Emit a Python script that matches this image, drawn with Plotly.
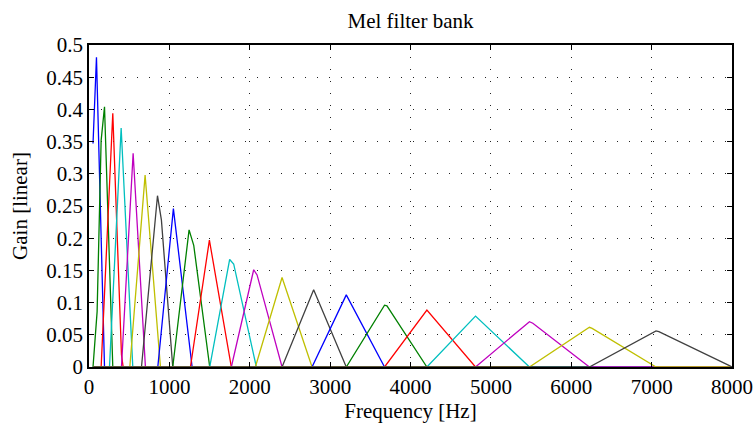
import plotly.graph_objects as go

# Filter vertices (Hz, linear gain)
filter_freqs = [
    [50, 93, 193, 8000],
    [50, 101, 151, 193, 296, 8000],
    [50, 151, 296, 404, 425, 8000],
    [50, 255, 400, 545, 8000],
    [50, 404, 549, 702, 8000],
    [50, 508, 698, 889, 8000],
    [50, 653, 852, 901, 1042, 8000],
    [50, 856, 1050, 1283, 8000],
    [50, 1042, 1245, 1303, 1502, 8000],
    [50, 1262, 1498, 1771, 8000],
    [50, 1502, 1750, 1800, 2082, 8000],
    [50, 1771, 2049, 2091, 2402, 8000],
    [50, 2070, 2402, 2775, 8000],
    [50, 2402, 2795, 3201, 8000],
    [50, 2775, 3201, 3677, 8000],
    [50, 3201, 3677, 3707, 4204, 8000],
    [50, 3677, 4204, 4809, 8000],
    [50, 4204, 4809, 5480, 8000],
    [50, 4809, 5480, 5522, 6226, 8000],
    [50, 5480, 6226, 6260, 7055, 8000],
    [50, 6226, 7055, 7090, 7968, 8000],
]
filter_gains = [
    [0.347, 0.481, 0, 0],
    [0, 0.086, 0.352, 0.404, 0, 0],
    [0, 0, 0.394, 0.019, 0, 0],
    [0, 0, 0.371, 0, 0],
    [0, 0, 0.332, 0, 0],
    [0, 0, 0.298, 0, 0],
    [0, 0, 0.266, 0.228, 0, 0],
    [0, 0, 0.246, 0, 0],
    [0, 0, 0.213, 0.189, 0, 0],
    [0, 0, 0.197, 0, 0],
    [0, 0, 0.167, 0.160, 0, 0],
    [0, 0, 0.151, 0.143, 0, 0],
    [0, 0, 0.139, 0, 0],
    [0, 0, 0.120, 0, 0],
    [0, 0, 0.112, 0, 0],
    [0, 0, 0.096, 0.095, 0, 0],
    [0, 0, 0.0885, 0, 0],
    [0, 0, 0.079, 0, 0],
    [0, 0, 0.0704, 0.068, 0, 0],
    [0, 0, 0.0616, 0.060, 0, 0],
    [0, 0, 0.056, 0.055, 0.002, 0],
]
line_colors = ["#0000FF", "#008000", "#FF0000", "#00BFBF", "#BF00BF", "#BFBF00", "#404040"]

x_tickvals = [0, 1000, 2000, 3000, 4000, 5000, 6000, 7000, 8000]
x_ticktext = ["0", "1000", "2000", "3000", "4000", "5000", "6000", "7000", "8000"]
y_tickvals = [0, 0.05, 0.1, 0.15, 0.2, 0.25, 0.3, 0.35, 0.4, 0.45, 0.5]
y_ticktext = ["0", "0.05", "0.1", "0.15", "0.2", "0.25", "0.3", "0.35", "0.4", "0.45", "0.5"]

fig = go.Figure()
for i, (fx, gy) in enumerate(zip(filter_freqs, filter_gains)):
    fig.add_trace(go.Scatter(
        x=fx, y=gy, mode="lines",
        line=dict(color=line_colors[i % len(line_colors)], width=1.3),
        showlegend=False, hoverinfo="skip",
    ))

font_family = "Liberation Serif"
axis_common = dict(
    showline=True, linecolor="black", linewidth=1.5, mirror="ticks",
    ticks="inside", ticklen=5, tickwidth=1, tickcolor="black",
    showgrid=True, gridcolor="#222222", gridwidth=1, griddash="1px,11px",
    zeroline=False, automargin=False,
    tickfont=dict(family=font_family, size=21, color="black"),
)

fig.update_layout(
    width=755, height=423,
    margin=dict(l=89, r=23, t=45, b=56),
    paper_bgcolor="white", plot_bgcolor="white",
    title=dict(text="Mel filter bank", x=0.5, xref="paper", y=1 - 21 / 423, yref="container",
               xanchor="center", yanchor="middle", automargin=False,
               font=dict(family=font_family, size=21, color="black")),
    xaxis=dict(range=[0, 8000], tickvals=x_tickvals, ticktext=x_ticktext,
               title=dict(text="Frequency [Hz]", standoff=2,
                          font=dict(family=font_family, size=21, color="black")),
               **axis_common),
    yaxis=dict(range=[0, 0.5], tickvals=y_tickvals, ticktext=y_ticktext,
               title=dict(text="Gain [linear]", standoff=13,
                          font=dict(family=font_family, size=21, color="black")),
               **axis_common),
)

fig.write_html("out.html")
